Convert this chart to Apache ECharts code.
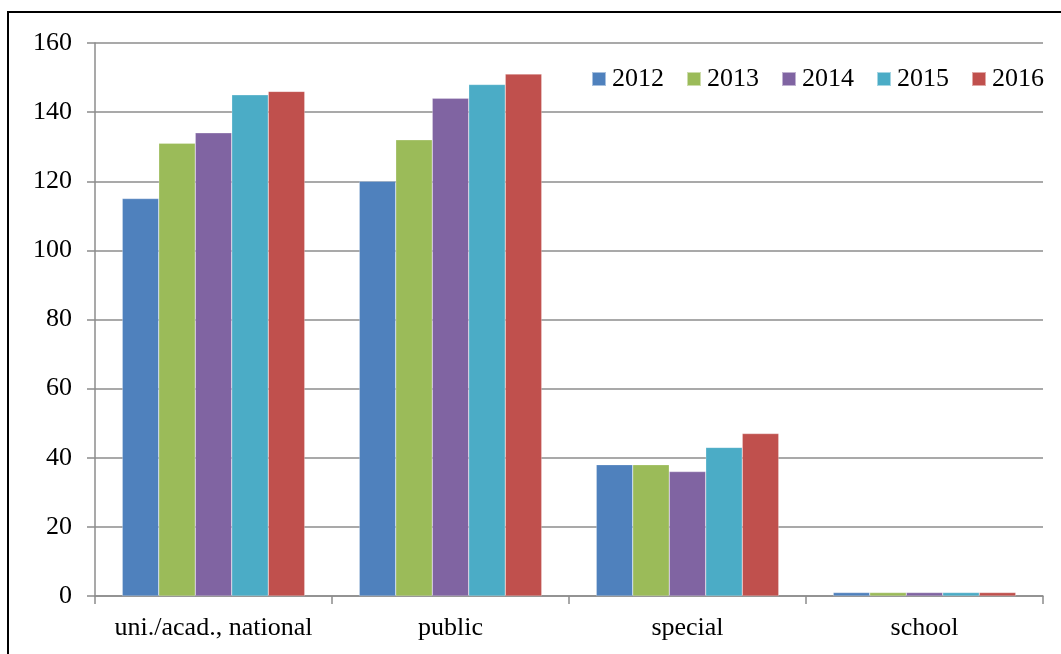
<!DOCTYPE html>
<html>
<head>
<meta charset="utf-8">
<script src="https://cdn.jsdelivr.net/npm/echarts@6/dist/echarts.min.js"></script>
<style>
html,body{margin:0;padding:0;background:#fff;overflow:hidden;}
#chart{position:absolute;left:0;top:0;width:1061px;height:654px;}
#frame{position:absolute;left:7px;top:11px;width:1080px;height:680px;border:2px solid #000;box-sizing:border-box;pointer-events:none;}
</style>
</head>
<body>
<div id="chart"></div>
<div id="frame"></div>
<script>
const categories = ['uni./acad., national', 'public', 'special', 'school'];
const years = ['2012', '2013', '2014', '2015', '2016'];
const values2012 = [115, 120, 38, 1];
const values2013 = [131, 132, 38, 1];
const values2014 = [134, 144, 36, 1];
const values2015 = [145, 148, 43, 1];
const values2016 = [146, 151, 47, 1];
const yTicks = [0, 20, 40, 60, 80, 100, 120, 140, 160];

const seriesValues = [values2012, values2013, values2014, values2015, values2016];
const colors = ['#4F81BD', '#9BBB59', '#8064A2', '#4BACC6', '#C0504D'];
const font = "'Liberation Serif', 'Times New Roman', serif";

const chart = echarts.init(document.getElementById('chart'), null, {renderer: 'canvas'});
chart.setOption({
  animation: false,
  backgroundColor: '#fff',
  color: colors,
  grid: {left: 95, top: 43, width: 948, height: 553, containLabel: false},
  legend: {
    left: 591, top: 66, padding: 0,
    itemWidth: 14, itemHeight: 14, itemGap: 22,
    icon: 'rect',
    textStyle: {fontFamily: font, fontSize: 26, color: '#000', padding: [0,0,0,1]},
    data: years
  },
  xAxis: {
    type: 'category',
    data: categories,
    axisLine: {lineStyle: {color: '#8c8c8c', width: 1.5}},
    axisTick: {show: true, interval: 0, length: 8, lineStyle: {color: '#8c8c8c', width: 1.5}},
    axisLabel: {interval: 0, fontFamily: font, fontSize: 26, color: '#000', margin: 19},
    splitLine: {show: false}
  },
  yAxis: {
    type: 'value',
    min: yTicks[0], max: yTicks[yTicks.length - 1], interval: 20,
    axisLine: {show: true, lineStyle: {color: '#8c8c8c', width: 1.5}},
    axisTick: {show: true, length: 8, lineStyle: {color: '#8c8c8c', width: 1.5}},
    axisLabel: {fontFamily: font, fontSize: 26, color: '#000', margin: 23},
    splitLine: {show: true, lineStyle: {color: '#8c8c8c', width: 1.5}}
  },
  series: years.map((y, i) => ({
    name: y,
    type: 'bar',
    data: seriesValues[i],
    barGap: '0%',
    barCategoryGap: '23%',
    itemStyle: {color: colors[i], borderColor: 'rgba(255,255,255,0.5)', borderWidth: 0.5}
  }))
});
</script>
</body>
</html>
